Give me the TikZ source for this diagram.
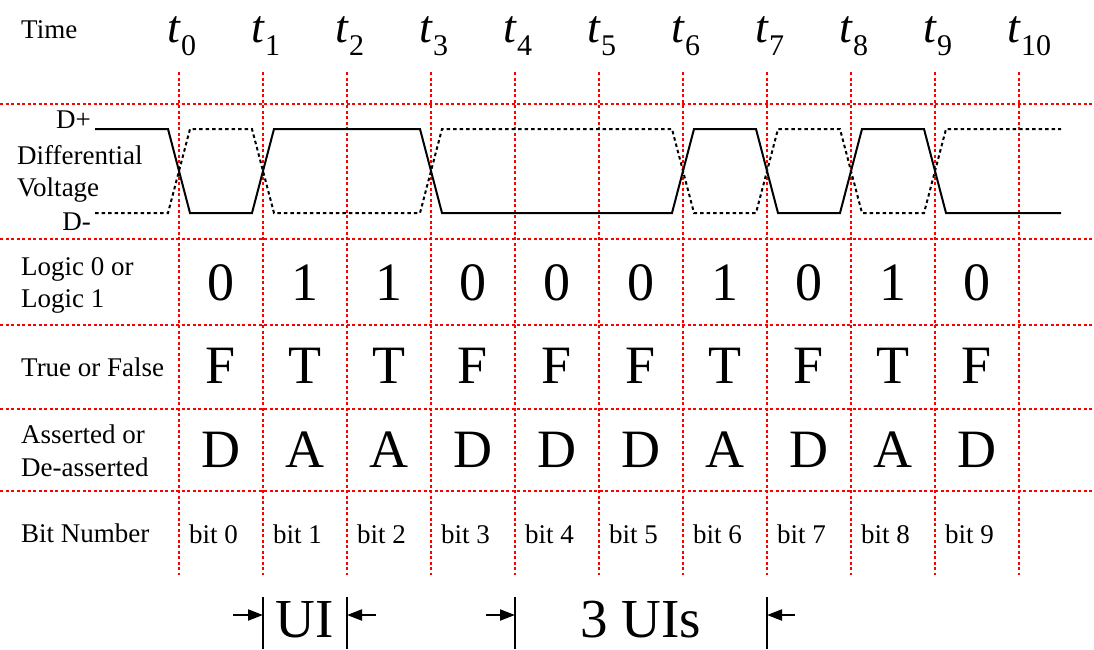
\documentclass[tikz,border=0pt]{standalone}
\usepackage{fontspec}
\setmainfont{Liberation Serif}
\usetikzlibrary{arrows.meta}
\begin{document}
\begin{tikzpicture}[x=1pt,y=-1pt,
  gridline/.style={red, line width=1.4pt, dash pattern=on 3pt off 2.5pt},
  solidsig/.style={black, line width=2pt, line join=miter},
  dotsig/.style={black, line width=2pt, dash pattern=on 3.5pt off 3pt},
  lbl/.style={anchor=base west, inner sep=0pt, font=\fontsize{27}{32}\selectfont},
  big/.style={anchor=base, inner sep=0pt, font=\fontsize{54}{54}\selectfont},
  small/.style={anchor=base west, inner sep=0pt, font=\fontsize{27}{32}\selectfont},
  tlab/.style={anchor=base east, inner sep=0pt, font=\fontsize{46}{46}\selectfont\itshape},
  tsub/.style={anchor=base west, inner sep=0pt, font=\fontsize{30}{30}\selectfont},
  bar/.style={black, line width=2pt},
  dimarrow/.style={black, line width=2pt, -{Triangle[length=15pt,width=11pt]}},
  uitext/.style={anchor=base, inner sep=0pt, font=\fontsize{55}{55}\selectfont}]
\useasboundingbox (0,0) rectangle (1094,649);

% grid
\foreach \k in {0,...,10} \draw[gridline] (179+84*\k,72) -- (179+84*\k,575);
\foreach \yy in {104,239,325,409,491} \draw[gridline] (0,\yy) -- (1094,\yy);

% time labels
\node[lbl] (time) at (21,38) {Time};
\foreach \k in {0,...,10} {
  \node[tlab] (t\k) at (179+84*\k+1,42) {t};
  \node[tsub] (s\k) at (179+84*\k+2,55) {\k};
}

% waveform labels
\node[anchor=base east, inner sep=0pt, font=\fontsize{27}{32}\selectfont] (dp) at (91,128) {D+};
\node[lbl] (diff) at (17,164) {Differential};
\node[lbl] (volt) at (17,196) {Voltage};
\node[anchor=base east, inner sep=0pt, font=\fontsize{27}{32}\selectfont] (dm) at (91,230) {D-};

% waveforms
\draw[solidsig] (95,129) -- (168,129) -- (190,213) -- (252,213) -- (274,129) -- (420,129)
  -- (442,213) -- (672,213) -- (694,129) -- (756,129) -- (778,213) -- (840,213)
  -- (862,129) -- (924,129) -- (946,213) -- (1061,213);
\draw[dotsig] (95,213) -- (168,213) -- (190,129) -- (252,129) -- (274,213) -- (420,213)
  -- (442,129) -- (672,129) -- (694,213) -- (756,213) -- (778,129) -- (840,129)
  -- (862,213) -- (924,213) -- (946,129) -- (1061,129);

% row labels
\node[lbl] (lg1) at (21,275) {Logic 0 or};
\node[lbl] (lg2) at (21,307) {Logic 1};
\node[lbl] (tf) at (21,376) {True or False};
\node[lbl] (as1) at (21,443) {Asserted or};
\node[lbl] (as2) at (21,476) {De-asserted};
\node[lbl] (bn) at (21,542) {Bit Number};

% values
\foreach \v [count=\i from 0] in {0,1,1,0,0,0,1,0,1,0}
  \node[big] (l\i) at (221+84*\i,300) {\v};
\foreach \v [count=\i from 0] in {F,T,T,F,F,F,T,F,T,F}
  \node[big] (f\i) at (221+84*\i,383) {\v};
\foreach \v [count=\i from 0] in {D,A,A,D,D,D,A,D,A,D}
  \node[big] (a\i) at (221+84*\i,467) {\v};
\foreach \i in {0,...,9}
  \node[small] (b\i) at (179+84*\i+10,543) {bit \i};

% UI dimension
\coordinate (u1t) at (263,597); \coordinate (u1b) at (263,649);
\coordinate (u2t) at (347,597); \coordinate (u2b) at (347,649);
\coordinate (u3t) at (515,597); \coordinate (u3b) at (515,649);
\coordinate (u4t) at (767,597); \coordinate (u4b) at (767,649);
\draw[bar] (u1t) -- (u1b);
\draw[bar] (u2t) -- (u2b);
\draw[bar] (u3t) -- (u3b);
\draw[bar] (u4t) -- (u4b);
\coordinate (a1s) at (233,615); \coordinate (a1e) at (263,615);
\coordinate (a2s) at (376,615); \coordinate (a2e) at (347,615);
\coordinate (a3s) at (486,615); \coordinate (a3e) at (515,615);
\coordinate (a4s) at (795,615); \coordinate (a4e) at (767,615);
\draw[dimarrow] (a1s) -- (a1e);
\draw[dimarrow] (a2s) -- (a2e);
\draw[dimarrow] (a3s) -- (a3e);
\draw[dimarrow] (a4s) -- (a4e);
\node[uitext] (ui) at (305,637) {UI};
\node[uitext] (ui3) at (641,637) {3 UIs};
\end{tikzpicture}
\end{document}
